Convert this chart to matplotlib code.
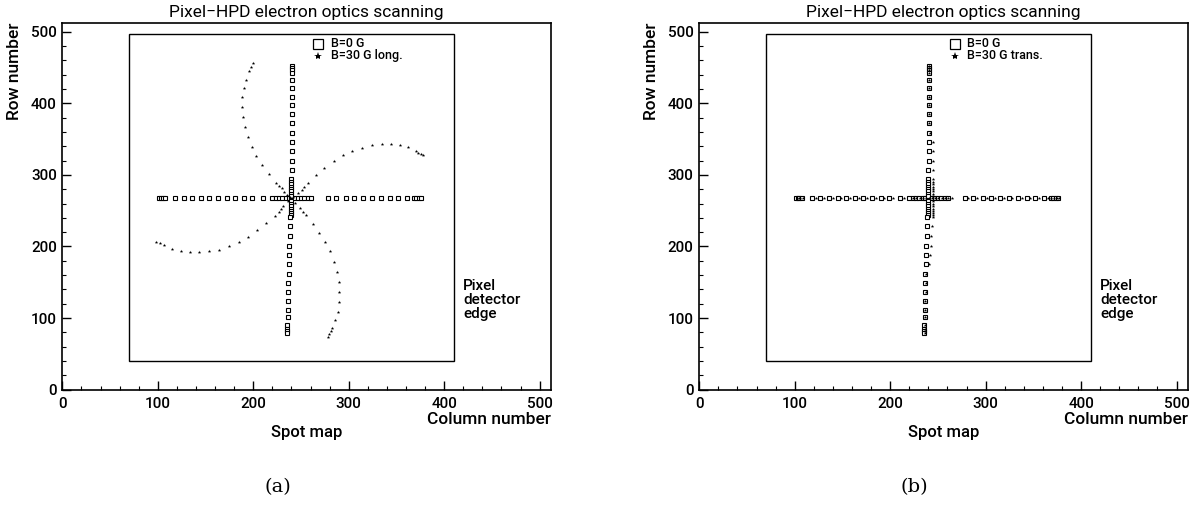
import numpy as np
import matplotlib
matplotlib.use('Agg')
import matplotlib.pyplot as plt
from matplotlib.patches import Rectangle
from matplotlib.ticker import MultipleLocator

plt.rcParams.update({
    'font.family': ['Roboto', 'DejaVu Sans'],
    'font.weight': 'medium',
    'axes.linewidth': 1.2,
    'xtick.direction': 'in',
    'ytick.direction': 'in',
})

# ---------------------------------------------------------------
# B = 0 G : cross of spots (same scan in both panels)
# ---------------------------------------------------------------
row_y = 267
row_x = [101, 103, 105, 108, 118, 127, 136, 145, 154, 163, 172, 181, 190, 199, 210,
         220, 223.5, 227, 230.5, 234, 237, 240, 243, 246.5, 250, 253.5, 257, 260.5,
         278, 287, 297, 306, 315, 324, 334, 343, 352, 361, 368, 371, 374, 376]

col_y = [452, 449, 446, 442, 432, 421, 409, 397, 385, 372, 359, 346, 333, 320, 307, 294,
         290.5, 287, 283.5, 280, 277, 273.5, 270, 263.5, 260, 256.5, 253, 250, 247, 244, 241,
         228, 215, 201, 188, 175, 162, 149, 136, 124, 112, 101, 91, 85, 82, 79]
col_x = [240.5, 240.5, 240.5, 240.5, 240.5, 240.5, 240.5, 240.5, 240.5, 240.5, 240.5,
         240.5, 240.3, 240.2, 240.1, 240.0,
         240.0, 240.0, 240.0, 240.0, 240.0, 240.0, 240.0, 239.8, 239.7, 239.6, 239.5,
         239.4, 239.3, 239.2, 239.0,
         238.5, 238.2, 237.9, 237.6, 237.3, 237.0, 236.8, 236.6, 236.4, 236.2, 236.0,
         235.8, 235.6, 235.5, 235.5]

# ---------------------------------------------------------------
# (a) B = 30 G longitudinal : four spiral arms
# ---------------------------------------------------------------
arm1_x = [199.4, 197.6, 195.5, 192.0, 190.0, 188.5, 188.5, 189.5, 191.6, 194.1, 198.3,
          203.1, 209.4, 216.4, 223.8, 226.6, 229.7, 232.1, 235.0, 238.0]
arm1_y = [455.5, 450.0, 444.4, 432.8, 421.2, 409.0, 395.1, 381.1, 367.1, 353.2, 339.2,
          326.2, 313.1, 301.1, 289.3, 284.7, 281.0, 276.4, 272.0, 269.0]
arm2_x = [242.0, 247.1, 250.7, 253.1, 257.0, 265.5, 274.3, 284.2, 293.9, 303.7, 313.8,
          324.0, 334.5, 344.2, 353.7, 362.1, 370.1, 372.9, 375.4, 377.8]
arm2_y = [269.0, 274.0, 278.7, 283.3, 288.5, 300.0, 309.9, 319.2, 327.1, 333.2, 337.8,
          341.0, 342.4, 342.4, 341.6, 338.8, 333.6, 331.2, 329.4, 327.6]
arm3_x = [236.0, 231.4, 229.0, 226.9, 222.4, 213.0, 203.9, 194.1, 184.7, 174.2, 164.1,
          153.6, 143.2, 133.4, 124.0, 114.6, 106.5, 102.3, 98.4]
arm3_y = [263.0, 256.8, 252.2, 248.0, 242.8, 232.6, 222.9, 213.9, 206.9, 201.3, 195.7,
          193.5, 192.6, 192.2, 194.0, 196.8, 202.3, 204.6, 206.5]
arm4_x = [244.0, 248.9, 252.4, 255.2, 262.2, 269.1, 275.4, 280.3, 284.5, 287.3, 289.4,
          290.1, 289.8, 288.4, 285.9, 282.8, 281.1, 279.3, 278.3]
arm4_y = [261.0, 253.6, 248.4, 243.8, 231.6, 219.1, 206.5, 193.0, 179.0, 164.6, 150.2,
          136.3, 122.3, 108.8, 97.1, 86.0, 81.8, 77.6, 74.3]

# ---------------------------------------------------------------
# (b) B = 30 G transverse : small shift of the cross
# ---------------------------------------------------------------
trans_row_x = [102, 104, 106, 109, 122, 131, 140, 149, 158, 167, 176, 185, 194, 203, 214,
               224, 227.5, 231, 234.5, 238, 241, 244, 247, 250.5, 254, 257.5, 261, 264.5,
               282, 291, 301, 310, 319, 328, 338, 347, 356, 365, 369, 372, 375, 377]
trans_col_y = [452, 449, 446, 442, 432, 421, 409, 397, 385, 372, 359, 346, 333, 320, 307, 294,
               290.5, 287, 283.5, 280, 277, 273.5, 270, 263.5, 260, 256.5, 253, 250, 247, 244, 241,
               228, 215, 201, 188, 175, 162, 149, 136, 124, 112, 101, 91, 85, 82, 79]
trans_col_x = [241, 241, 241, 241, 241, 241, 241, 241, 241, 241, 241.5,
               244.5, 244.5, 244.5, 244.5, 244.5,
               244.5, 244.5, 244.5, 244.5, 244.5, 244.5, 244.5, 244.5, 244.5, 244.5, 244.5,
               244.5, 244.5, 244.5, 244.5,
               243.5, 243.0, 242.5, 242.0, 241.0, 237.5, 237.3, 237.1, 236.9, 236.7, 236.5,
               236.3, 236.1, 236.0, 236.0]

# inner frame (pixel detector edge)
box_x0, box_x1 = 70, 410
box_y0, box_y1 = 40, 496


def draw_panel(ax, sx, sy, label, caption):
    ax.set_xlim(0, 512)
    ax.set_ylim(0, 512)
    ax.plot(row_x, [row_y] * len(row_x), ls='none', marker='s', ms=3.2,
            mfc='white', mec='black', mew=0.8)
    ax.plot(col_x, col_y, ls='none', marker='s', ms=3.2,
            mfc='white', mec='black', mew=0.8)
    ax.plot(sx, sy, ls='none', marker='*', ms=2.6, color='black', mew=0)

    ax.add_patch(Rectangle((box_x0, box_y0), box_x1 - box_x0, box_y1 - box_y0,
                           fill=False, lw=1.0, ec='black'))

    # legend inside the frame
    ax.plot([268], [483], marker='s', ms=7, mfc='white', mec='black', mew=0.9)
    ax.plot([268], [466], marker='*', ms=6, color='black', mew=0)
    ax.text(281, 483, 'B=0 G', fontsize=9, va='center', ha='left')
    ax.text(281, 466, label, fontsize=9, va='center', ha='left')

    ax.text(420, 125, 'Pixel\ndetector\nedge', fontsize=11, va='center', ha='left',
            linespacing=1.0)

    ax.xaxis.set_major_locator(MultipleLocator(100))
    ax.xaxis.set_minor_locator(MultipleLocator(20))
    ax.yaxis.set_major_locator(MultipleLocator(100))
    ax.yaxis.set_minor_locator(MultipleLocator(20))
    ax.tick_params(which='major', length=6.5, width=1, labelsize=11, top=False, right=False)
    ax.tick_params(which='minor', length=3.2, width=0.8, top=False, right=False)
    ax.tick_params(axis='x', pad=5)
    ax.tick_params(axis='y', pad=4)

    ax.set_title('Pixel\u2212HPD electron optics scanning', fontsize=12.5, pad=4)
    ax.text(-0.097, 1.0, 'Row number', transform=ax.transAxes, rotation=90,
            ha='center', va='top', fontsize=12.5)
    ax.text(1.0, -0.08, 'Column number', transform=ax.transAxes,
            ha='right', va='center', fontsize=12.5)
    ax.text(0.5, -0.118, 'Spot map', transform=ax.transAxes,
            ha='center', va='center', fontsize=12)
    # subfigure caption, centred under the whole panel graphic
    ax.text(0.44, -0.265, caption, transform=ax.transAxes, ha='center', va='center',
            fontsize=14, family='DejaVu Serif', weight='normal')


fig = plt.figure(figsize=(11.99, 5.27), dpi=100)
ax_a = fig.add_axes([0.0520, 0.2605, 0.4076, 0.6958])
ax_b = fig.add_axes([0.5832, 0.2605, 0.4076, 0.6958])

star_a_x = arm1_x + arm2_x + arm3_x + arm4_x
star_a_y = arm1_y + arm2_y + arm3_y + arm4_y
draw_panel(ax_a, star_a_x, star_a_y, 'B=30 G long.', '(a)')

star_b_x = trans_row_x + trans_col_x
star_b_y = [row_y] * len(trans_row_x) + trans_col_y
draw_panel(ax_b, star_b_x, star_b_y, 'B=30 G trans.', '(b)')

fig.savefig('out.png', dpi=100, facecolor='white')
